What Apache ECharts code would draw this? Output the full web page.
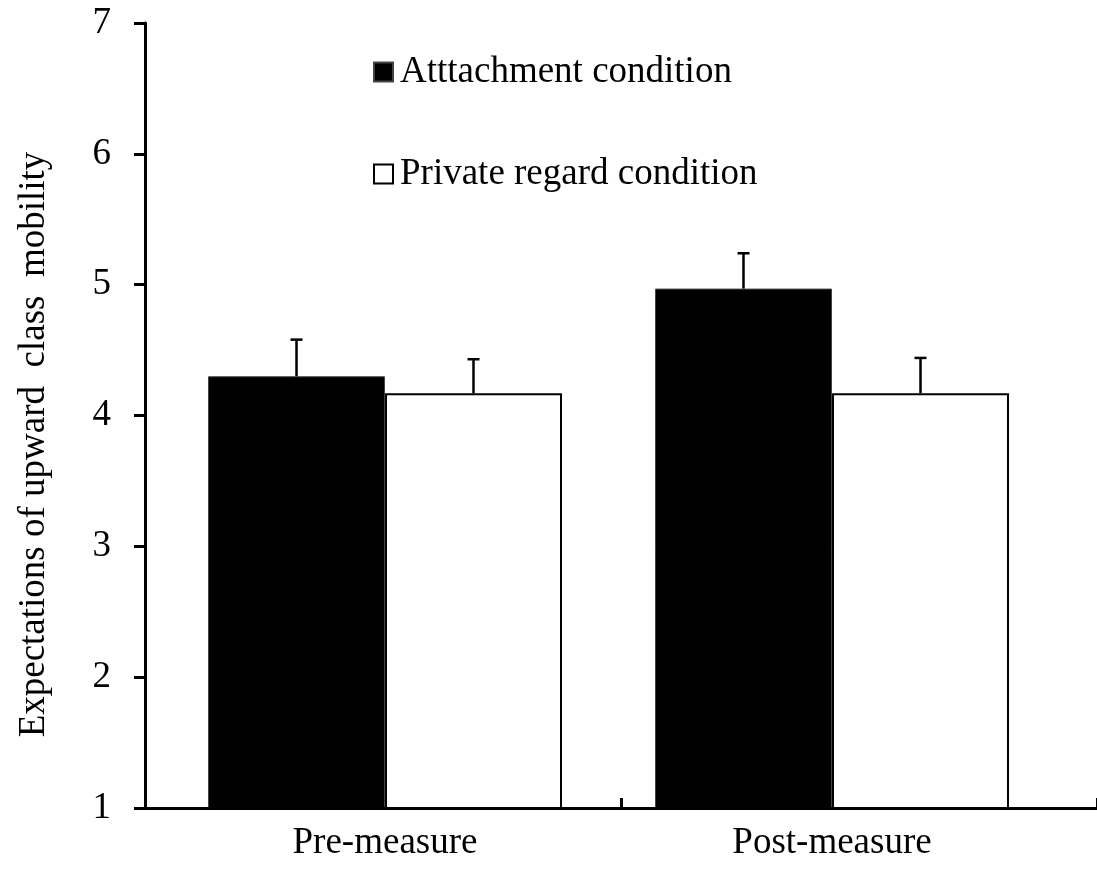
<!DOCTYPE html>
<html>
<head>
<meta charset="utf-8">
<script src="https://cdn.jsdelivr.net/npm/echarts@6/dist/echarts.min.js"></script>
<style>
  html, body { margin: 0; padding: 0; background: #fff; }
  #chart { width: 1097px; height: 873px; }
</style>
</head>
<body>
<div id="chart"></div>
<script>
// 数据
var categories = ["Pre-measure", "Post-measure"];
var seriesNames = ["Atttachment condition", "Private regard condition"];
var attachMean = [4.30, 4.97];
var attachUpper = [4.58, 5.24];
var regardMean = [4.17, 4.17];
var regardUpper = [4.43, 4.44];
var yTicks = [1, 2, 3, 4, 5, 6, 7];

var font = "'Liberation Serif', 'Times New Roman', serif";
var fs = 37;
var barW = 177;

// 误差线（只画上半部分）
function errorSeries(name, mean, upper, offset) {
  return {
    name: name + " err",
    type: "custom",
    xAxisIndex: 1,
    yAxisIndex: 1,
    z: 10,
    data: mean.map(function (m, i) { return [i, m, upper[i]]; }),
    renderItem: function (params, api) {
      var p0 = api.coord([api.value(0), api.value(1)]);
      var p1 = api.coord([api.value(0), api.value(2)]);
      var x = p0[0] + offset;
      var style = { stroke: "#000", lineWidth: 2.5 };
      return {
        type: "group",
        children: [
          { type: "line", shape: { x1: x, y1: p0[1], x2: x, y2: p1[1] }, style: style },
          { type: "line", shape: { x1: x - 6, y1: p1[1], x2: x + 6, y2: p1[1] }, style: style }
        ]
      };
    }
  };
}

var myChart = echarts.init(document.getElementById("chart"));
var option = {
  backgroundColor: "#fff",
  animation: false,
  textStyle: { fontFamily: font, color: "#000" },
  // grid 0: 坐标轴线；grid 1: 柱子（原图右侧被裁切，柱子位置不对称）
  grid: [
    { left: 145, right: -8, top: 23, bottom: 65 },
    { left: 161.5, right: 41.5, top: 23, bottom: 65 }
  ],
  legend: {
    data: seriesNames,
    orient: "vertical",
    left: 373,
    top: 52,
    padding: 0,
    itemWidth: 19,
    itemHeight: 19,
    itemGap: 62,
    icon: "rect",
    textStyle: { fontFamily: font, fontSize: fs, color: "#000", lineHeight: 40, padding: [0, 0, 0, 2] }
  },
  xAxis: [
    {
      type: "category",
      gridIndex: 0,
      data: categories,
      boundaryGap: true,
      z: 20,
      axisLine: { lineStyle: { color: "#000", width: 3 } },
      axisTick: { show: true, interval: 0, alignWithLabel: false, inside: true, length: 10, lineStyle: { color: "#000", width: 3 } },
      axisLabel: { show: false, interval: 0 }
    },
    {
      type: "category",
      gridIndex: 1,
      data: categories,
      axisLine: { show: false },
      axisTick: { show: false },
      axisLabel: { fontFamily: font, fontSize: fs, color: "#000", margin: 17 }
    }
  ],
  yAxis: [
    {
      type: "value",
      gridIndex: 0,
      min: 1,
      max: 7,
      interval: 1,
      name: "Expectations of upward  class  mobility",
      nameLocation: "middle",
      nameGap: 92,
      nameTextStyle: { fontFamily: font, fontSize: fs, color: "#000", padding: [0, 58, 0, 0] },
      axisLine: { show: true, lineStyle: { color: "#000", width: 3 } },
      axisTick: { show: true, length: 11, lineStyle: { color: "#000", width: 3 } },
      axisLabel: {
        fontFamily: font, fontSize: fs, color: "#000", margin: 34,
        formatter: function (v) { return yTicks.indexOf(v) >= 0 ? String(v) : ""; }
      },
      splitLine: { show: false }
    },
    {
      type: "value",
      gridIndex: 1,
      min: 1,
      max: 7,
      interval: 1,
      show: false,
      splitLine: { show: false }
    }
  ],
  series: [
    {
      name: seriesNames[0],
      type: "bar",
      xAxisIndex: 1,
      yAxisIndex: 1,
      data: attachMean,
      barWidth: barW,
      barGap: "0%",
      itemStyle: { color: "#000", borderColor: "#444", borderWidth: 1 }
    },
    {
      name: seriesNames[1],
      type: "bar",
      xAxisIndex: 1,
      yAxisIndex: 1,
      data: regardMean,
      barWidth: barW,
      barGap: "0%",
      itemStyle: { color: "#fff", borderColor: "#000", borderWidth: 2 }
    },
    errorSeries(seriesNames[0], attachMean, attachUpper, -barW / 2),
    errorSeries(seriesNames[1], regardMean, regardUpper, barW / 2)
  ]
};
myChart.setOption(option);
</script>
</body>
</html>
